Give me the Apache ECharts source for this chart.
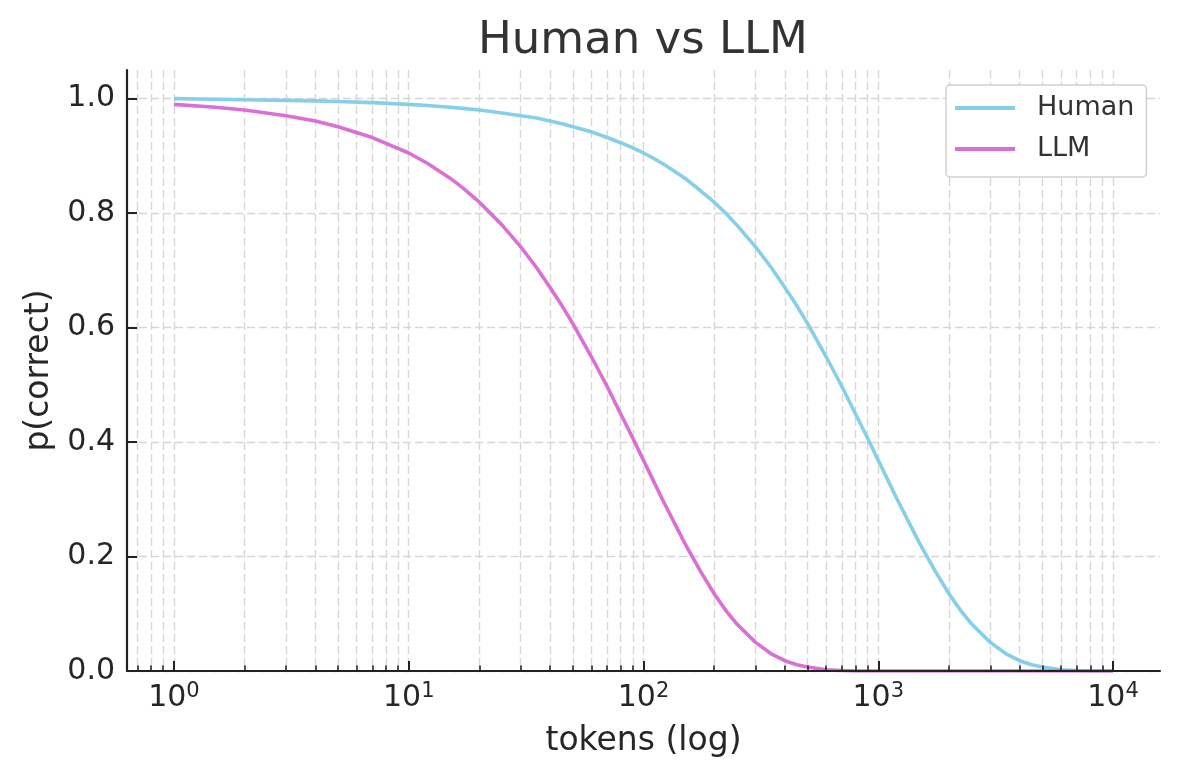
<!DOCTYPE html>
<html>
<head>
<meta charset="utf-8">
<script src="https://cdn.jsdelivr.net/npm/echarts@6/dist/echarts.min.js"></script>
<style>
html,body{margin:0;padding:0;background:#fff;}
#chart{width:1180px;height:780px;}
</style>
</head>
<body>
<div id="chart"></div>
<script>
// ---- data ----
const tokens = [1, 1.5, 2, 3, 4, 5, 7, 10, 12, 15, 17, 20, 25, 30, 35, 40, 45, 50, 60, 70, 80, 90, 100, 110, 120, 130, 140, 150, 175, 200, 225, 250, 300, 350, 400, 450, 500, 600, 700, 800, 900, 1000, 1100, 1200, 1300, 1400, 1500, 1750, 2000, 2250, 2500, 3000, 3500, 4000, 4500, 5000, 6000, 7000, 8000, 10000];
const humanP = [1.000, 0.999, 0.998, 0.997, 0.996, 0.995, 0.993, 0.990, 0.988, 0.985, 0.983, 0.980, 0.975, 0.970, 0.966, 0.961, 0.956, 0.951, 0.942, 0.932, 0.923, 0.914, 0.905, 0.896, 0.887, 0.878, 0.869, 0.861, 0.839, 0.819, 0.799, 0.779, 0.741, 0.705, 0.670, 0.638, 0.607, 0.549, 0.497, 0.449, 0.407, 0.368, 0.333, 0.301, 0.273, 0.247, 0.223, 0.174, 0.135, 0.105, 0.082, 0.050, 0.030, 0.018, 0.011, 0.007, 0.002, 0.001, 0.000, 0.000];
const llmP = [0.990, 0.985, 0.980, 0.970, 0.961, 0.951, 0.932, 0.905, 0.887, 0.861, 0.844, 0.819, 0.779, 0.741, 0.705, 0.670, 0.638, 0.607, 0.549, 0.497, 0.449, 0.407, 0.368, 0.333, 0.301, 0.273, 0.247, 0.223, 0.174, 0.135, 0.105, 0.082, 0.050, 0.030, 0.018, 0.011, 0.007, 0.002, 0.001, 0.000, 0.000, 0.000, 0.000, 0.000, 0.000, 0.000, 0.000, 0.000, 0.000, 0.000, 0.000, 0.000, 0.000, 0.000, 0.000, 0.000, 0.000, 0.000, 0.000, 0.000];
const seriesNames = ['Human', 'LLM'];
const majorXTicks = [1, 10, 100, 1000, 10000];
const minorXTicks = [0.7, 0.8, 0.9, 2, 3, 4, 5, 6, 7, 8, 9, 20, 30, 40, 50, 60, 70, 80, 90, 200, 300, 400, 500, 600, 700, 800, 900, 2000, 3000, 4000, 5000, 6000, 7000, 8000, 9000];
const yTicks = [0, 0.2, 0.4, 0.6, 0.8, 1.0];
const titleText = 'Human vs LLM';
const xName = 'tokens (log)';
const yName = 'p(correct)';

// ---- chart ----
const FONT = 'DejaVu Sans';
const INK = '#262626';
const X_MIN = 0.631, X_MAX = 15849;
const gridLine = { color: '#d6d6d6', width: 1.4, type: [8, 4] };

const chart = echarts.init(document.getElementById('chart'), null, { renderer: 'canvas' });

function pairs(xs, ys) { return xs.map((x, i) => [x, ys[i]]); }

const option = {
  animation: false,
  backgroundColor: '#ffffff',
  title: {
    text: titleText,
    left: 478, top: 19, padding: 0,
    textStyle: { fontFamily: FONT, fontSize: 45, fontWeight: 'normal', color: '#333333' }
  },
  legend: {
    data: seriesNames,
    orient: 'vertical',
    left: 946, top: 85,
    padding: [8, 12, 13, 9],
    itemGap: 11,
    icon: 'rect',
    itemWidth: 60, itemHeight: 4,
    backgroundColor: '#ffffff',
    borderColor: '#cfcfcf', borderWidth: 1.5, borderRadius: 4,
    textStyle: { fontFamily: FONT, fontSize: 27, color: '#333333', lineHeight: 30, padding: [0, 0, 0, 17] }
  },
  grid: { left: 127, right: 20, top: 70, bottom: 109 },
  xAxis: [
    {
      type: 'log', logBase: 10, min: X_MIN, max: X_MAX, position: 'bottom', z: 5,
      name: xName, nameLocation: 'middle', nameGap: 54,
      nameTextStyle: { fontFamily: FONT, fontSize: 33, color: INK },
      axisLine: { show: true, onZero: false, lineStyle: { color: '#222', width: 2.2 } },
      axisTick: { show: true, inside: true, length: 10, lineStyle: { color: '#222', width: 2 }, customValues: majorXTicks },
      axisLabel: {
        customValues: majorXTicks, margin: 10,
        formatter: v => '{b|10}{s|' + Math.round(Math.log10(v)) + '}',
        rich: {
          b: { fontFamily: FONT, fontSize: 30, color: INK, lineHeight: 34 },
          s: { fontFamily: FONT, fontSize: 21, color: INK, lineHeight: 16, verticalAlign: 'top' }
        }
      },
      splitLine: { show: false }
    },
    {
      type: 'log', logBase: 10, min: X_MIN, max: X_MAX, position: 'bottom', z: 5,
      axisLine: { show: false },
      axisTick: { show: true, inside: true, length: 5.5, lineStyle: { color: '#222', width: 1.6 }, customValues: minorXTicks },
      axisLabel: { show: false },
      splitLine: { show: false }
    },
    {
      type: 'log', logBase: 10, min: X_MIN, max: X_MAX, position: 'bottom', z: 0,
      axisLine: { show: false },
      axisTick: { show: false, customValues: majorXTicks.concat(minorXTicks) },
      axisLabel: { show: false },
      splitLine: { show: true, lineStyle: gridLine }
    }
  ],
  yAxis: {
    type: 'value', min: 0, max: 1.05, z: 1,
    name: yName, nameLocation: 'middle', nameGap: 70, nameRotate: 90,
    nameTextStyle: { fontFamily: FONT, fontSize: 33, color: INK },
    axisLine: { show: true, onZero: false, lineStyle: { color: '#222', width: 2.2 } },
    axisTick: { show: true, inside: true, length: 10, lineStyle: { color: '#222', width: 2 }, customValues: yTicks },
    axisLabel: { customValues: yTicks, margin: 12, fontFamily: FONT, fontSize: 30, color: INK, formatter: v => v.toFixed(1) },
    splitLine: { show: true, lineStyle: gridLine }
  },
  series: [
    {
      name: seriesNames[0], type: 'line', xAxisIndex: 0, yAxisIndex: 0, z: 2,
      data: pairs(tokens, humanP), showSymbol: false, symbol: 'none',
      smooth: false,
      lineStyle: { color: '#87CEEB', width: 3.6 }, itemStyle: { color: '#87CEEB' }
    },
    {
      name: seriesNames[1], type: 'line', xAxisIndex: 0, yAxisIndex: 0, z: 2,
      data: pairs(tokens, llmP), showSymbol: false, symbol: 'none',
      smooth: false,
      lineStyle: { color: '#DA70D6', width: 3.6 }, itemStyle: { color: '#DA70D6' }
    }
  ]
};
chart.setOption(option);
</script>
</body>
</html>
